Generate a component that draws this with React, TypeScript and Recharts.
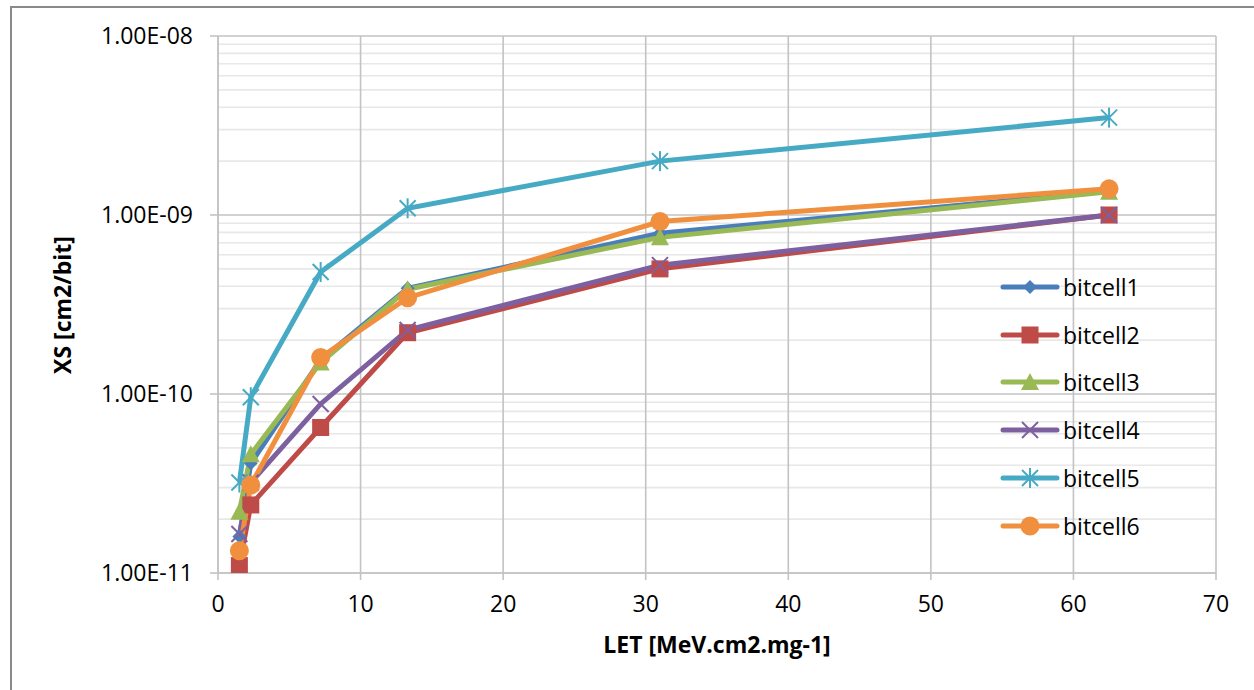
import React from 'react';
import { LineChart, Line, XAxis, YAxis, CartesianGrid, Legend } from 'recharts';

const letValues = [1.5, 2.3, 7.2, 13.3, 31, 62.5];
const bitcell1 = [1.6e-11, 4.1e-11, 1.55e-10, 3.9e-10, 7.9e-10, 1.36e-9];
const bitcell2 = [1.1e-11, 2.4e-11, 6.5e-11, 2.2e-10, 5.0e-10, 1.0e-9];
const bitcell3 = [2.2e-11, 4.6e-11, 1.5e-10, 3.85e-10, 7.5e-10, 1.35e-9];
const bitcell4 = [1.65e-11, 3.2e-11, 8.8e-11, 2.28e-10, 5.25e-10, 1.0e-9];
const bitcell5 = [3.2e-11, 9.6e-11, 4.8e-10, 1.09e-9, 2.0e-9, 3.5e-9];
const bitcell6 = [1.33e-11, 3.1e-11, 1.6e-10, 3.45e-10, 9.2e-10, 1.4e-9];

const seriesNames = ['bitcell1', 'bitcell2', 'bitcell3', 'bitcell4', 'bitcell5', 'bitcell6'];
const seriesValues = [bitcell1, bitcell2, bitcell3, bitcell4, bitcell5, bitcell6];
const seriesColors = ['#4A7EBB', '#BE4B48', '#98B954', '#7D60A0', '#46AAC5', '#F0903F'];
const seriesShapes = ['diamond', 'square', 'triangle', 'x', 'star', 'circle'];

const xTicks = [0, 10, 20, 30, 40, 50, 60, 70];
const yTicks = [1e-11, 1e-10, 1e-9, 1e-8];
const yMinorTicks = [
  2e-11, 3e-11, 4e-11, 5e-11, 6e-11, 7e-11, 8e-11, 9e-11,
  2e-10, 3e-10, 4e-10, 5e-10, 6e-10, 7e-10, 8e-10, 9e-10,
  2e-9, 3e-9, 4e-9, 5e-9, 6e-9, 7e-9, 8e-9, 9e-9,
];

const data = letValues.map((x, i) => {
  const row: Record<string, number> = { x };
  seriesNames.forEach((n, k) => {
    row[n] = seriesValues[k][i];
  });
  return row;
});

const FONT = '"Open Sans", sans-serif';
const FS = 23;

const fmtSci = (v: number) => {
  const e = Math.round(Math.log10(v));
  const m = v / Math.pow(10, e);
  const sign = e < 0 ? '-' : '+';
  return `${m.toFixed(2)}E${sign}${String(Math.abs(e)).padStart(2, '0')}`;
};

function Marker({ shape, cx, cy, color }: { shape: string; cx: number; cy: number; color: string }) {
  if (cx == null || cy == null || isNaN(cx) || isNaN(cy)) return <g />;
  switch (shape) {
    case 'diamond':
      return <polygon points={`${cx},${cy - 7} ${cx + 7},${cy} ${cx},${cy + 7} ${cx - 7},${cy}`} fill={color} />;
    case 'square':
      return <rect x={cx - 8.5} y={cy - 8.5} width={17} height={17} fill={color} />;
    case 'triangle':
      return <polygon points={`${cx},${cy - 9} ${cx + 9},${cy + 8} ${cx - 9},${cy + 8}`} fill={color} />;
    case 'x':
      return (
        <g stroke={color} strokeWidth={2}>
          <line x1={cx - 8} y1={cy - 8} x2={cx + 8} y2={cy + 8} />
          <line x1={cx - 8} y1={cy + 8} x2={cx + 8} y2={cy - 8} />
        </g>
      );
    case 'star':
      return (
        <g stroke={color} strokeWidth={2}>
          <line x1={cx - 8} y1={cy - 8} x2={cx + 8} y2={cy + 8} />
          <line x1={cx - 8} y1={cy + 8} x2={cx + 8} y2={cy - 8} />
          <line x1={cx} y1={cy - 10} x2={cx} y2={cy + 10} />
        </g>
      );
    default:
      return <circle cx={cx} cy={cy} r={9.5} fill={color} />;
  }
}

const renderLegend = () => (
  <div style={{ fontFamily: FONT, fontSize: FS, color: '#000' }}>
    {seriesNames.map((n, k) => (
      <div key={n} style={{ height: 47.8, display: 'flex', alignItems: 'center' }}>
        <svg width={60} height={24} style={{ display: 'block' }}>
          <line x1={3} y1={12} x2={57} y2={12} stroke={seriesColors[k]} strokeWidth={5} strokeLinecap="round" />
          <Marker shape={seriesShapes[k]} cx={30} cy={12} color={seriesColors[k]} />
        </svg>
        <span style={{ marginLeft: 3 }}>{n}</span>
      </div>
    ))}
  </div>
);

export default function App() {
  return (
    <div style={{ position: 'absolute', left: 0, top: 0, width: 1254, height: 690, overflow: 'hidden', background: '#fff' }}>
      <div
        style={{
          position: 'absolute',
          left: 10,
          top: 6,
          width: 1300,
          height: 800,
          border: '2px solid #8a8a8a',
          boxSizing: 'border-box',
        }}
      />
      <div style={{ position: 'absolute', left: 0, top: 0 }}>
        <LineChart width={1254} height={690} data={data} margin={{ top: 36, right: 38, bottom: 57, left: 11 }}>
          <CartesianGrid
            vertical={false}
            horizontalValues={yMinorTicks}
            stroke="#E8E8E8"
            strokeWidth={1.6}
          />
          <CartesianGrid stroke="#C3C3C3" strokeWidth={1.6} />
          <XAxis
            type="number"
            dataKey="x"
            domain={[0, 70]}
            ticks={xTicks}
            interval={0}
            height={60}
            tickSize={7}
            tickMargin={16}
            axisLine={{ stroke: '#C3C3C3', strokeWidth: 1.6 }}
            tickLine={{ stroke: '#C3C3C3', strokeWidth: 1.6 }}
            tick={{ fill: '#000', fontFamily: FONT, fontSize: FS }}
            label={{
              content: () => (
                <text x={717} y={653} textAnchor="middle" fontFamily={FONT} fontWeight="bold" fontSize={FS} fill="#000">
                  LET [MeV.cm2.mg-1]
                </text>
              ),
            }}
          />
          <YAxis
            scale="log"
            domain={[1e-11, 1e-8]}
            ticks={yTicks}
            interval={0}
            allowDataOverflow
            width={207}
            tickSize={8}
            tickMargin={17}
            tickFormatter={fmtSci}
            axisLine={{ stroke: '#C3C3C3', strokeWidth: 1.6 }}
            tickLine={{ stroke: '#C3C3C3', strokeWidth: 1.6 }}
            tick={{ fill: '#000', fontFamily: FONT, fontSize: FS }}
            label={{
              content: () => (
                <text
                  x={71}
                  y={305}
                  textAnchor="middle"
                  transform="rotate(-90 71 305)"
                  fontFamily={FONT}
                  fontWeight="bold"
                  fontSize={FS}
                  fill="#000"
                >
                  XS [cm2/bit]
                </text>
              ),
            }}
          />
          <Legend
            layout="vertical"
            align="center"
            verticalAlign="middle"
            content={renderLegend}
            wrapperStyle={{ left: 1000, top: 263, width: 230 }}
          />
          {seriesNames.map((n, k) => (
            <Line
              key={n}
              dataKey={n}
              name={n}
              type="linear"
              stroke={seriesColors[k]}
              strokeWidth={5}
              isAnimationActive={false}
              dot={(p: any) => (
                <Marker key={`${n}-${p.index}`} shape={seriesShapes[k]} cx={p.cx} cy={p.cy} color={seriesColors[k]} />
              )}
              activeDot={false}
            />
          ))}
        </LineChart>
      </div>
    </div>
  );
}
